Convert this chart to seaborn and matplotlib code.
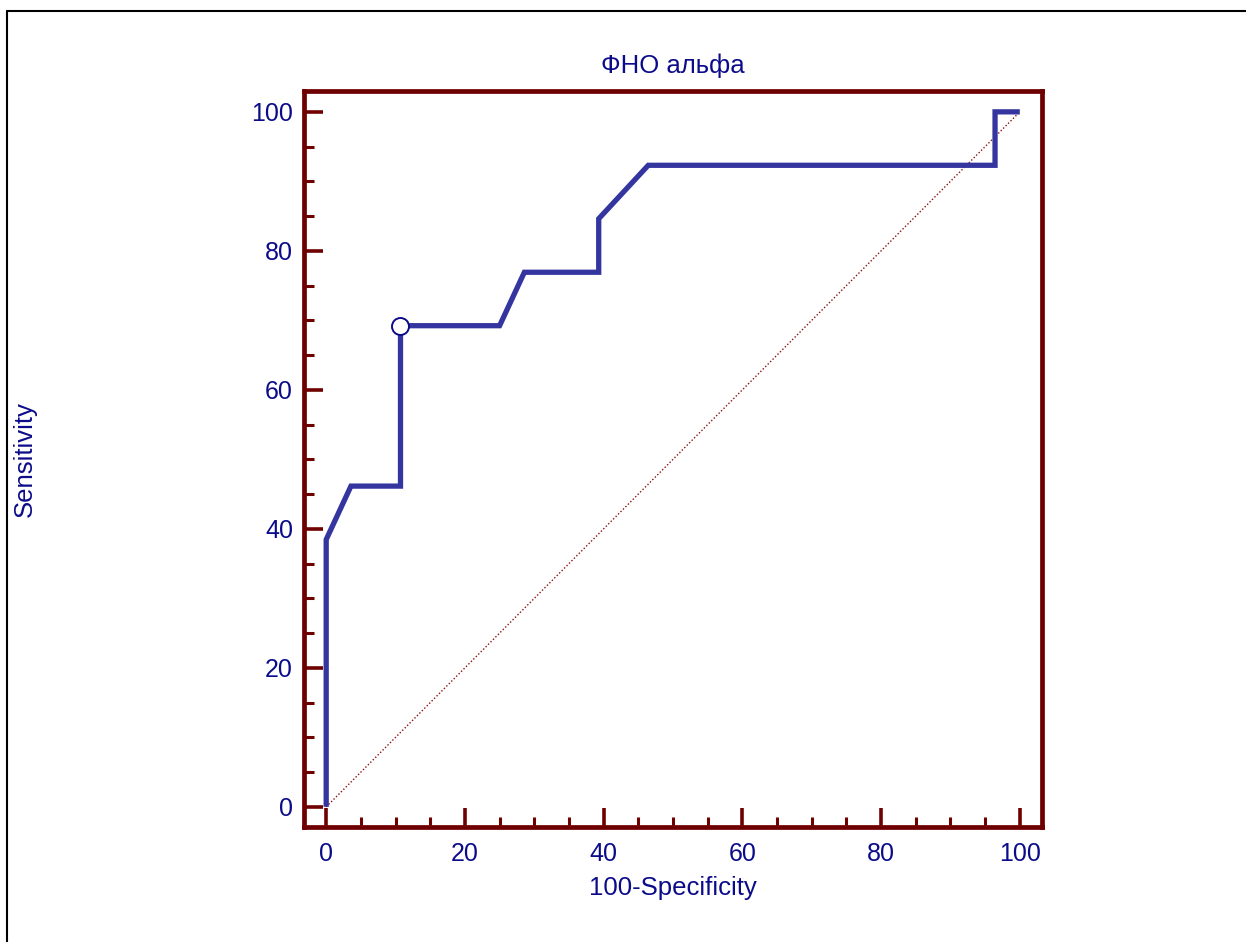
import matplotlib
matplotlib.use("Agg")
import matplotlib.pyplot as plt
from matplotlib.lines import Line2D
from matplotlib.ticker import MultipleLocator
import seaborn as sns
import pandas as pd

# ROC data (100-Specificity, Sensitivity)
fpr = [0.0, 0.0, 3.57, 10.71, 10.71, 25.0, 28.57, 39.29, 39.29, 46.43, 96.43, 96.43, 100.0]
tpr = [0.0, 38.46, 46.15, 46.15, 69.23, 69.23, 76.92, 76.92, 84.62, 92.31, 92.31, 100.0, 100.0]
cut_x = [10.71]
cut_y = [69.23]
diag = [0, 100]
title = "ФНО альфа"
xlabel = "100-Specificity"
ylabel = "Sensitivity"

sns.set_theme(style="white")
plt.rcParams['font.family'] = ['Liberation Sans', 'DejaVu Sans']

SPINE = "#6e0000"
NAVY = "#0c0c8a"
LINE = "#3535a0"
FS = 18

fig = plt.figure(figsize=(12.46, 9.42), dpi=100)
ax = fig.add_axes([304/1246, 1-827/942, (1042-304)/1246, (827-91)/942])

df = pd.DataFrame({"x": fpr, "y": tpr})
ax.plot(diag, diag, color="#8b1010", lw=1.0, ls=(0, (1, 1.5)), zorder=2)
sns.lineplot(data=df, x="x", y="y", sort=False, estimator=None, ax=ax,
             color=LINE, lw=3.8, zorder=3)
for l in ax.lines:
    l.set_solid_joinstyle("miter")
    l.set_solid_capstyle("butt")
sns.scatterplot(x=cut_x, y=cut_y, ax=ax, s=150, color="white",
                edgecolor=NAVY, linewidth=1.4, zorder=4)

ax.set_xlim(-3.2, 103.2)
ax.set_ylim(-2.9, 103.0)
ax.xaxis.set_major_locator(MultipleLocator(20))
ax.yaxis.set_major_locator(MultipleLocator(20))
ax.xaxis.set_minor_locator(MultipleLocator(5))
ax.yaxis.set_minor_locator(MultipleLocator(5))

for s in ax.spines.values():
    s.set_color(SPINE)
    s.set_linewidth(3.4)
    s.set_visible(True)

ax.tick_params(which="both", direction="in", color=SPINE, bottom=True, left=True,
               top=False, right=False)
ax.tick_params(which="major", length=14, width=2.6, labelsize=FS, labelcolor=NAVY)
ax.tick_params(axis="x", which="major", pad=11)
ax.tick_params(axis="y", which="major", pad=8)
ax.tick_params(which="minor", length=7.5, width=2.2)

ax.set_title(title, fontsize=FS + 0.5, color=NAVY, pad=13)
ax.set_xlabel(xlabel, fontsize=FS + 0.5, color=NAVY)
ax.set_ylabel(ylabel, fontsize=FS + 0.5, color=NAVY)
ax.xaxis.set_label_coords(0.5, -0.083)
ax.xaxis.label.set_va("center")
ax.yaxis.set_label_coords(-0.378, 0.5)
ax.yaxis.label.set_va("center")
ax.grid(False)

# outer frame (top and left only visible)
fig.add_artist(Line2D([7/1246, 7/1246], [0, 1-11/942], transform=fig.transFigure,
                      color="black", lw=1.5))
fig.add_artist(Line2D([7/1246, 1], [1-11/942, 1-11/942], transform=fig.transFigure,
                      color="black", lw=1.5))

fig.savefig("out.png", dpi=100)
